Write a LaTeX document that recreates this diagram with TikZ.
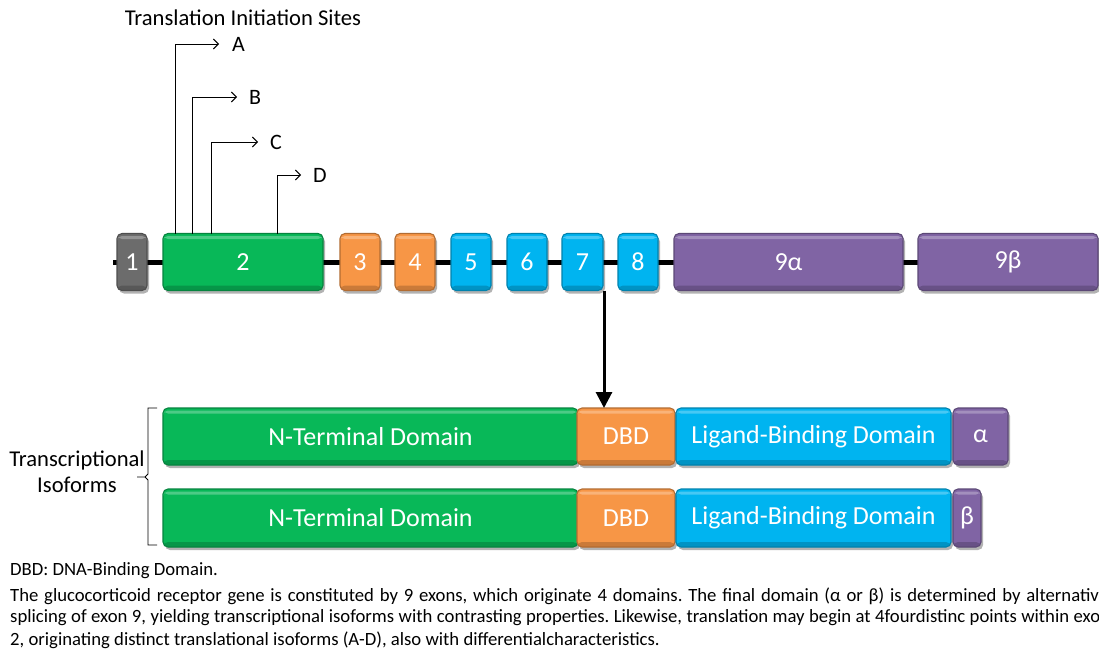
\documentclass[tikz,border=0pt]{standalone}
\usepackage{fontspec}
\setmainfont{Carlito}
\frenchspacing
\usetikzlibrary{arrows.meta,shadows,calc,backgrounds}
\definecolor{exgray}{RGB}{108,108,108}
\definecolor{exgreen}{RGB}{8,184,88}
\definecolor{exorange}{RGB}{247,150,70}
\definecolor{exblue}{RGB}{0,180,240}
\definecolor{expurple}{RGB}{128,100,164}
\tikzset{
  exon/.style={rounded corners=5pt, fill=#1, draw=#1!72!black, line width=1.1pt,
    inner sep=0pt, outer sep=0pt, text=white, font=\fontsize{26}{28}\selectfont,
    drop shadow={shadow xshift=2pt, shadow yshift=-3pt, opacity=0.3, fill=black},
    path picture={
      \fill[white,opacity=0.28] ([yshift=-2.5pt]path picture bounding box.north west) rectangle ([yshift=-5.5pt]path picture bounding box.north east);
      \fill[black,opacity=0.18] (path picture bounding box.south west) rectangle ([yshift=5pt]path picture bounding box.south east);
    }},
  site/.style={line width=0.9pt, -{Straight Barb[length=5pt,width=10pt]}},
  sitelbl/.style={font=\fontsize{22}{24}\selectfont, inner sep=0pt, anchor=west},
  biglbl/.style={font=\fontsize{22.6}{26}\selectfont, align=center},
  caption/.style={font=\fontsize{18.7}{20}\selectfont, anchor=west, inner sep=0pt},
}
\begin{document}
\begin{tikzpicture}[x=1pt,y=-1pt]
\useasboundingbox (0,0) rectangle (1099,650);
\clip (0,0) rectangle (1099,650);

% gene exons
\node[exon=exgray,   minimum width=30pt,  minimum height=57pt] (e1)  at (132,262)   {1};
\node[exon=exgreen,  minimum width=160pt, minimum height=57pt] (e2)  at (243,262)   {2};
\node[exon=exorange, minimum width=40pt,  minimum height=57pt] (e3)  at (360,262)   {3};
\node[exon=exorange, minimum width=40pt,  minimum height=57pt] (e4)  at (415,262)   {4};
\node[exon=exblue,   minimum width=40pt,  minimum height=57pt] (e5)  at (471,262)   {5};
\node[exon=exblue,   minimum width=40pt,  minimum height=57pt] (e6)  at (527,262)   {6};
\node[exon=exblue,   minimum width=41pt,  minimum height=57pt] (e7)  at (582.5,262) {7};
\node[exon=exblue,   minimum width=40pt,  minimum height=57pt] (e8)  at (638,262)   {8};
\node[exon=expurple, minimum width=229pt, minimum height=57pt] (e9a) at (788.5,262) {9α};
\node[exon=expurple, minimum width=180pt, minimum height=57pt] (e9b) at (1008,262)  {9β};

\begin{scope}[on background layer]
  \fill[white] (0,0) rectangle (1099,650);
  \draw[line width=5pt] ([xshift=-4pt]e1.west) -- (e9b.east);
\end{scope}

% title and translation initiation sites
\node[biglbl] (title) at (243,18) {Translation Initiation Sites};
\node[sitelbl] (A) at (232,44)  {A};
\node[sitelbl] (B) at (249,97)  {B};
\node[sitelbl] (C) at (270,142) {C};
\node[sitelbl] (D) at (313,175) {D};
\draw[site] ([xshift=12pt]e2.north west)  |- ([xshift=-13pt]A.west);
\draw[site] ([xshift=29pt]e2.north west)  |- ([xshift=-12pt]B.west);
\draw[site] ([xshift=48pt]e2.north west)  |- ([xshift=-12pt]C.west);
\draw[site] ([xshift=114pt]e2.north west) |- ([xshift=-12pt]D.west);

% isoforms
\node[exon=exgreen,  minimum width=415pt, minimum height=57pt] (ntd1) at (370.5,436.5) {N-Terminal Domain};
\node[exon=exorange, minimum width=98pt,  minimum height=57pt] (dbd1) at (626,436.5)   {DBD};
\node[exon=exblue,   minimum width=275pt, minimum height=57pt] (lbd1) at (813.5,436.5) {Ligand-Binding Domain};
\node[exon=expurple, minimum width=55pt,  minimum height=57pt] (alp)  at (980.5,436.5) {α};

\node[exon=exgreen,  minimum width=415pt, minimum height=58pt] (ntd2) at (370.5,518) {N-Terminal Domain};
\node[exon=exorange, minimum width=98pt,  minimum height=58pt] (dbd2) at (626,518)   {DBD};
\node[exon=exblue,   minimum width=275pt, minimum height=58pt] (lbd2) at (813.5,518) {Ligand-Binding Domain};
\node[exon=expurple, minimum width=28pt,  minimum height=58pt] (bet)  at (967,518)   {β};

% arrow from exon 7 to DBD
\draw[line width=3pt, -{Triangle[length=16pt,width=16pt]}]
  ([xshift=1pt]e7.south east) -- ([xshift=1pt]e7.south east |- dbd1.north);

% brace and label
\draw[line width=0.9pt] (157,408) -- (148,408) -- (148,474) -- (145,477) -- (137,477);
\draw[line width=0.9pt] (145,477) -- (148,480) -- (148,545) -- (157,545);
\node[biglbl] (iso) at (77,472) {Transcriptional\\Isoforms};

% caption
\node[caption] (c1) at (10,571) {DBD: DNA-Binding Domain.};
\node[caption] (c2) at (10,596) {\makebox[1098pt][s]{The glucocorticoid receptor gene is constituted by 9 exons, which originate 4 domains. The final domain (α or β) is determined by alternative}};
\node[caption] (c3) at (10,618) {\makebox[1100pt][s]{splicing of exon 9, yielding transcriptional isoforms with contrasting properties. Likewise, translation may begin at 4fourdistinc points within exon}};
\node[caption] (c4) at (10,640) {2, originating distinct translational isoforms (A-D), also with differentialcharacteristics.};
\end{tikzpicture}
\end{document}
